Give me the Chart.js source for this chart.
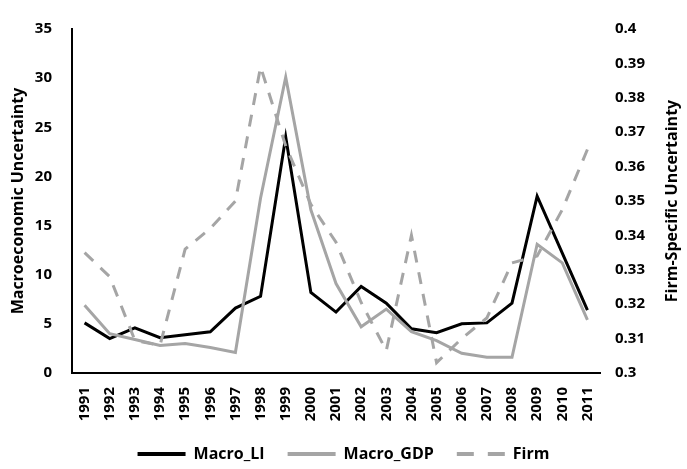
<!DOCTYPE html>
<html>
<head>
<meta charset="utf-8">
<script src="https://cdn.jsdelivr.net/npm/chart.js@4"></script>
<style>
  html, body { margin: 0; padding: 0; background: #fff; }
  canvas { display: block; }
</style>
</head>
<body>
<canvas id="chart" width="687" height="469"></canvas>
<script>
var years = ["1991","1992","1993","1994","1995","1996","1997","1998","1999","2000",
             "2001","2002","2003","2004","2005","2006","2007","2008","2009","2010","2011"];
var macroLI  = [5.1, 3.5, 4.6, 3.6, 3.9, 4.2, 6.6, 7.8, 24.0, 8.2,
                6.2, 8.8, 7.1, 4.5, 4.1, 5.0, 5.1, 7.1, 18.0, 12.2, 6.4];
var macroGDP = [6.9, 4.0, 3.4, 2.8, 3.0, 2.6, 2.1, 17.8, 30.1, 16.6,
                9.1, 4.7, 6.5, 4.2, 3.3, 2.0, 1.6, 1.6, 13.1, 11.2, 5.4];
var firm     = [0.335, 0.328, 0.3095, 0.308, 0.336, 0.342, 0.350, 0.389, 0.366, 0.349,
                0.338, 0.3205, 0.3065, 0.340, 0.303, 0.310, 0.316, 0.332, 0.334, 0.3475, 0.365];

var grey = "#a5a5a5";
var fontFam = "'Open Sans', sans-serif";
var rightTitle = "Firm-Specific Uncertainty";

// right axis title reads bottom-to-top like the left one
var rightTitlePlugin = {
  id: "rightTitle",
  afterDraw: function (chart) {
    var ctx = chart.ctx, a = chart.chartArea;
    ctx.save();
    ctx.translate(672, (a.top + a.bottom) / 2);
    ctx.rotate(-Math.PI / 2);
    ctx.fillStyle = "#000";
    ctx.font = "bold 16px " + fontFam;
    ctx.textAlign = "center";
    ctx.textBaseline = "middle";
    ctx.fillText(rightTitle, 0, 0);
    ctx.restore();
  }
};

new Chart("chart", {
  type: "line",
  data: {
    labels: years,
    datasets: [{
      label: "Macro_LI",
      data: macroLI,
      borderColor: "#000",
      backgroundColor: "#000",
      borderWidth: 3,
      pointRadius: 0,
      yAxisID: "y",
      order: 3
    }, {
      label: "Macro_GDP",
      data: macroGDP,
      borderColor: grey,
      backgroundColor: grey,
      borderWidth: 3,
      pointRadius: 0,
      yAxisID: "y",
      order: 2
    }, {
      label: "Firm",
      data: firm,
      borderColor: grey,
      backgroundColor: grey,
      borderWidth: 3,
      borderDash: [12, 10],
      pointRadius: 0,
      yAxisID: "y1",
      order: 1
    }]
  },
  plugins: [rightTitlePlugin],
  options: {
    responsive: false,
    animation: false,
    layout: { padding: { top: 13, bottom: 0, left: 0, right: 0 } },
    plugins: {
      tooltip: { enabled: false },
      legend: {
        position: "bottom",
        maxHeight: 46,
        labels: {
          color: "#000",
          font: { family: fontFam, size: 16, weight: "bold" },
          usePointStyle: true,
          pointStyle: "line",
          pointStyleWidth: 48,
          boxHeight: 10,
          padding: 23,
          sort: function (a, b) { return a.datasetIndex - b.datasetIndex; },
          generateLabels: function (chart) {
            var items = Chart.defaults.plugins.legend.labels.generateLabels(chart);
            items.forEach(function (it) {
              var ds = chart.data.datasets[it.datasetIndex];
              it.lineDash = ds.borderDash ? [17, 14] : [];
              it.lineWidth = 4;
              it.strokeStyle = ds.borderColor;
            });
            return items;
          }
        }
      }
    },
    scales: {
      x: {
        offset: true,
        grid: { display: false, drawTicks: false },
        border: { display: true, color: "#000", width: 2 },
        ticks: {
          color: "#000",
          font: { family: fontFam, size: 15, weight: "bold" },
          minRotation: 90,
          maxRotation: 90,
          padding: 14,
          autoSkip: false
        },
        afterFit: function (s) { s.height = 50; }
      },
      y: {
        position: "left",
        min: 0,
        max: 35,
        grid: { display: false, drawTicks: false },
        border: { display: true, color: "#000", width: 2 },
        ticks: {
          stepSize: 5,
          color: "#000",
          font: { family: fontFam, size: 15, weight: "bold" },
          padding: 20
        },
        title: {
          display: true,
          text: "Macroeconomic Uncertainty",
          color: "#000",
          font: { family: fontFam, size: 16, weight: "bold" },
          padding: { top: 9, bottom: 0 }
        },
        afterFit: function (s) { s.width = 72; }
      },
      y1: {
        position: "right",
        min: 0.3,
        max: 0.4,
        grid: { display: false, drawTicks: false },
        border: { display: false },
        ticks: {
          stepSize: 0.01,
          color: "#000",
          font: { family: fontFam, size: 15, weight: "bold" },
          padding: 15,
          callback: function (v) { return String(Number(v.toFixed(2))); }
        },
        afterFit: function (s) { s.width = 87; }
      }
    }
  }
});
</script>
</body>
</html>
